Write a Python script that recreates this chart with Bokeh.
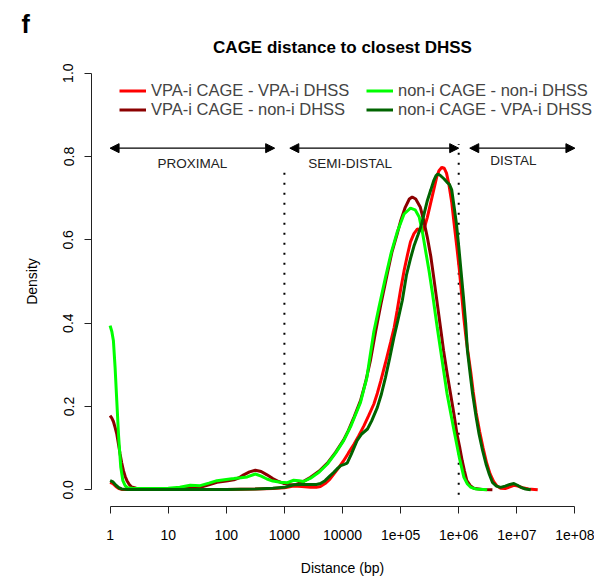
import numpy as np
from bokeh.plotting import figure
from bokeh.models import (Range1d, FixedTicker, Legend, LegendItem, Arrow, NormalHead,
                          ColumnDataSource, Title, NumeralTickFormatter)
from bokeh.embed import file_html
from bokeh.resources import INLINE
from bokeh.core.properties import value

FONT = "Liberation Sans"

# ---------------- data (x stored as log10 of distance in bp) ----------------
series_names = ["VPA-i CAGE - VPA-i DHSS", "VPA-i CAGE - non-i DHSS",
                "non-i CAGE - non-i DHSS", "non-i CAGE - VPA-i DHSS"]
series_colors = ["#FF0000", "#8B0000", "#00FF00", "#006400"]

vpa_vpa_log = [0.0, 0.05, 0.1, 0.15, 0.2, 0.3, 0.6, 1.0, 1.5, 2.0,
               2.5, 2.8, 3.0, 3.16, 3.3, 3.45, 3.55, 3.62, 3.7, 3.78,
               3.85, 3.93, 4.02, 4.1, 4.2, 4.28, 4.37, 4.45, 4.54, 4.6,
               4.66, 4.74, 4.83, 4.89, 4.94, 5.0, 5.06, 5.12, 5.17, 5.23,
               5.29, 5.34, 5.38, 5.42, 5.46, 5.52, 5.57, 5.62, 5.66, 5.71,
               5.75, 5.79, 5.83, 5.88, 5.92, 5.97, 6.01, 6.05, 6.09, 6.13,
               6.16, 6.21, 6.25, 6.3, 6.36, 6.42, 6.48, 6.54, 6.6, 6.66,
               6.72, 6.8, 6.88, 6.95, 7.02, 7.1, 7.2, 7.36]
vpa_vpa_density = [0.018, 0.015, 0.008, 0.003, 0.001, 0.001, 0.001, 0.001, 0.001, 0.001,
                   0.002, 0.003, 0.005, 0.009, 0.008, 0.006, 0.006, 0.008, 0.015, 0.025,
                   0.038, 0.052, 0.07, 0.088, 0.11, 0.13, 0.154, 0.178, 0.206, 0.232,
                   0.262, 0.305, 0.355, 0.39, 0.43, 0.48, 0.526, 0.565, 0.595, 0.615,
                   0.626, 0.624, 0.621, 0.634, 0.654, 0.69, 0.72, 0.75, 0.766, 0.774,
                   0.772, 0.76, 0.734, 0.69, 0.64, 0.58, 0.53, 0.47, 0.41, 0.36,
                   0.33, 0.28, 0.235, 0.185, 0.14, 0.1, 0.065, 0.038, 0.02, 0.009,
                   0.004, 0.003, 0.007, 0.011, 0.009, 0.005, 0.002, 0.0]

vpa_non_log = [0.0, 0.03, 0.057, 0.086, 0.115, 0.144, 0.172, 0.2, 0.23, 0.26,
               0.29, 0.33, 0.37, 0.45, 0.8, 1.1, 1.4, 1.55, 1.7, 1.84,
               2.0, 2.13, 2.22, 2.3, 2.4, 2.5, 2.6, 2.7, 2.8, 2.9,
               3.0, 3.1, 3.2, 3.3, 3.45, 3.6, 3.74, 3.88, 4.02, 4.1,
               4.2, 4.31, 4.4, 4.48, 4.57, 4.66, 4.77, 4.85, 4.94, 5.0,
               5.08, 5.15, 5.2, 5.26, 5.34, 5.4, 5.46, 5.52, 5.57, 5.63,
               5.69, 5.74, 5.8, 5.86, 5.92, 5.97, 6.02, 6.06, 6.1, 6.14,
               6.2, 6.26, 6.4, 6.58]
vpa_non_density = [0.178, 0.172, 0.164, 0.15, 0.134, 0.11, 0.086, 0.065, 0.046, 0.032,
                   0.022, 0.013, 0.007, 0.004, 0.003, 0.003, 0.003, 0.006, 0.012, 0.018,
                   0.021, 0.024, 0.029, 0.036, 0.043, 0.047, 0.044, 0.036, 0.027, 0.02,
                   0.015, 0.012, 0.013, 0.018, 0.03, 0.045, 0.064, 0.09, 0.12, 0.142,
                   0.175, 0.214, 0.26, 0.31, 0.38, 0.445, 0.518, 0.57, 0.614, 0.645,
                   0.678, 0.698, 0.703, 0.698, 0.678, 0.645, 0.606, 0.56, 0.51, 0.448,
                   0.386, 0.334, 0.28, 0.23, 0.18, 0.134, 0.1, 0.07, 0.045, 0.022,
                   0.01, 0.004, 0.001, 0.0]

non_non_log = [0.0, 0.03, 0.057, 0.086, 0.115, 0.144, 0.184, 0.22, 0.259, 0.3,
               0.4, 0.6, 0.8, 1.0, 1.2, 1.38, 1.55, 1.7, 1.84, 2.0,
               2.13, 2.25, 2.36, 2.5, 2.6, 2.7, 2.8, 2.93, 3.05, 3.16,
               3.25, 3.33, 3.45, 3.6, 3.74, 3.88, 4.02, 4.15, 4.31, 4.42,
               4.48, 4.54, 4.63, 4.74, 4.84, 4.94, 5.06, 5.17, 5.25, 5.32,
               5.38, 5.43, 5.49, 5.55, 5.63, 5.69, 5.8, 5.92, 6.01, 6.09,
               6.15, 6.21, 6.3, 6.49]
non_non_density = [0.394, 0.38, 0.358, 0.294, 0.214, 0.134, 0.054, 0.022, 0.01, 0.005,
                   0.003, 0.003, 0.003, 0.004, 0.006, 0.011, 0.01, 0.016, 0.022, 0.025,
                   0.027, 0.029, 0.031, 0.038, 0.033, 0.026, 0.021, 0.018, 0.017, 0.023,
                   0.022, 0.02, 0.028, 0.043, 0.062, 0.088, 0.118, 0.155, 0.21, 0.27,
                   0.326, 0.38, 0.44, 0.51, 0.57, 0.618, 0.662, 0.676, 0.672, 0.655,
                   0.615, 0.574, 0.525, 0.47, 0.39, 0.334, 0.23, 0.142, 0.078, 0.03,
                   0.014, 0.006, 0.002, 0.0]

non_vpa_log = [0.0, 0.05, 0.1, 0.15, 0.2, 0.3, 0.6, 1.0, 1.5, 2.0,
               2.5, 2.8, 3.0, 3.16, 3.3, 3.45, 3.55, 3.62, 3.7, 3.78,
               3.85, 3.92, 3.97, 4.03, 4.08, 4.15, 4.25, 4.33, 4.43, 4.5,
               4.6, 4.67, 4.74, 4.81, 4.885, 4.95, 5.03, 5.1, 5.17, 5.23,
               5.3, 5.35, 5.4, 5.46, 5.52, 5.57, 5.61, 5.64, 5.68, 5.75,
               5.8, 5.84, 5.88, 5.92, 5.96, 6.0, 6.04, 6.08, 6.12, 6.15,
               6.2, 6.24, 6.3, 6.35, 6.41, 6.47, 6.52, 6.58, 6.65, 6.72,
               6.8, 6.88, 6.95, 7.01, 7.07, 7.15, 7.24]
non_vpa_density = [0.022, 0.019, 0.011, 0.005, 0.002, 0.001, 0.001, 0.001, 0.001, 0.001,
                   0.002, 0.004, 0.006, 0.012, 0.013, 0.013, 0.013, 0.015, 0.022, 0.033,
                   0.042, 0.052, 0.058, 0.061, 0.064, 0.085, 0.118, 0.134, 0.146, 0.165,
                   0.198, 0.23, 0.27, 0.315, 0.366, 0.405, 0.455, 0.515, 0.555, 0.585,
                   0.612, 0.632, 0.66, 0.694, 0.72, 0.742, 0.754, 0.758, 0.755, 0.746,
                   0.738, 0.733, 0.72, 0.68, 0.64, 0.585, 0.525, 0.465, 0.4, 0.334,
                   0.275, 0.23, 0.175, 0.134, 0.095, 0.062, 0.04, 0.018, 0.009, 0.006,
                   0.009, 0.013, 0.015, 0.011, 0.006, 0.002, 0.0]

# region annotations
region_names = ["PROXIMAL", "SEMI-DISTAL", "DISTAL"]
region_start = [1, 1240, 1.55e6]
region_end = [680, 1.0e6, 1.0e8]
region_label_x = [26, 1.35e4, 8.7e6]
region_label_y = [0.783, 0.783, 0.79]
arrow_y = 0.82
boundaries = [1000, 1.0e6]
boundary_top = [0.78, 0.83]

x_ticks = [1, 10, 100, 1000, 10000, 100000, 1000000, 10000000, 100000000]
x_tick_labels = ["1", "10", "100", "1000", "10000", "1e+05", "1e+06", "1e+07", "1e+08"]
y_ticks = [0.0, 0.2, 0.4, 0.6, 0.8, 1.0]

# ---------------- figure ----------------
p = figure(width=594, height=580, x_axis_type="log",
           x_range=Range1d(10 ** -0.32, 10 ** 8.32), y_range=Range1d(-0.04, 1.04),
           output_backend="svg", toolbar_location=None,
           min_border_left=91, min_border_right=1, min_border_top=56, min_border_bottom=74,
           title="f")
p.outline_line_color = None
p.grid.visible = False
p.background_fill_color = "white"

# panel letter (outer title row)
p.title.align = "left"
p.title.offset = -70
p.title.text_font = FONT
p.title.text_font_size = "25px"
p.title.text_font_style = "bold"
p.title.text_color = "black"
p.title.standoff = -5

# main title (row next to the plot area)
p.add_layout(Title(text="CAGE distance to closest DHSS", align="center", text_font=FONT,
                   text_font_size="17px", text_font_style="bold", text_color="black",
                   standoff=0), "above")

for ax in (p.xaxis, p.yaxis):
    ax.axis_line_color = "#222222"
    ax.major_tick_line_color = "#222222"
    ax.minor_tick_line_color = None
    ax.major_tick_in = 0
    ax.major_tick_out = 7
    ax.major_label_text_font = FONT
    ax.major_label_text_font_size = "14px"
    ax.major_label_text_color = "black"
    ax.axis_label_text_font = FONT
    ax.axis_label_text_font_size = "14px"
    ax.axis_label_text_font_style = "normal"
    ax.axis_label_text_color = "black"

p.xaxis.ticker = FixedTicker(ticks=x_ticks)
p.xaxis.major_label_overrides = {t: s for t, s in zip(x_ticks, x_tick_labels)}
p.xaxis.bounds = (x_ticks[0], x_ticks[-1])
p.xaxis.axis_label = "Distance (bp)"
p.xaxis.major_label_standoff = 16
p.xaxis.axis_label_standoff = 17

p.yaxis.ticker = FixedTicker(ticks=y_ticks)
p.yaxis.formatter = NumeralTickFormatter(format="0.0")
p.yaxis.bounds = (0, 1)
p.yaxis.major_label_orientation = "vertical"
p.yaxis.axis_label = "Density"
p.yaxis.major_label_standoff = 11
p.yaxis.axis_label_standoff = 21

# boundaries (dotted)
p.segment(x0=boundaries, y0=[-0.012] * 2, x1=boundaries, y1=boundary_top,
          line_color="black", line_width=2, line_dash="2 8")

# region arrows
arrow_src = ColumnDataSource(dict(x0=region_start, x1=region_end,
                                  y=[arrow_y] * len(region_start)))
p.add_layout(Arrow(start=NormalHead(size=9, fill_color="black", line_color="black"),
                   end=NormalHead(size=9, fill_color="black", line_color="black"),
                   x_start="x0", y_start="y", x_end="x1", y_end="y",
                   line_color="black", line_width=1.3, source=arrow_src))
p.text(x=region_label_x, y=region_label_y, text=region_names,
       text_font=value(FONT), text_font_size="13.5px", text_color="#222222",
       text_align="center", text_baseline="middle")

# density curves
logs = [vpa_vpa_log, vpa_non_log, non_non_log, non_vpa_log]
dens = [vpa_vpa_density, vpa_non_density, non_non_density, non_vpa_density]
renderers = []
for lx, dy, col in zip(logs, dens, series_colors):
    r = p.line(x=10 ** np.array(lx), y=dy, line_color=col, line_width=3)
    renderers.append(r)

legend = Legend(items=[LegendItem(label=n, renderers=[r]) for n, r in zip(series_names, renderers)],
                location=(28, 387), ncols=2,
                label_text_font=FONT, label_text_font_size="16.5px",
                glyph_width=27, glyph_height=17, label_height=17, label_width=215,
                label_standoff=5, spacing=-3, padding=0, margin=0,
                border_line_color=None, background_fill_alpha=0)
p.add_layout(legend)

open("out.html", "w").write(file_html(p, INLINE))
